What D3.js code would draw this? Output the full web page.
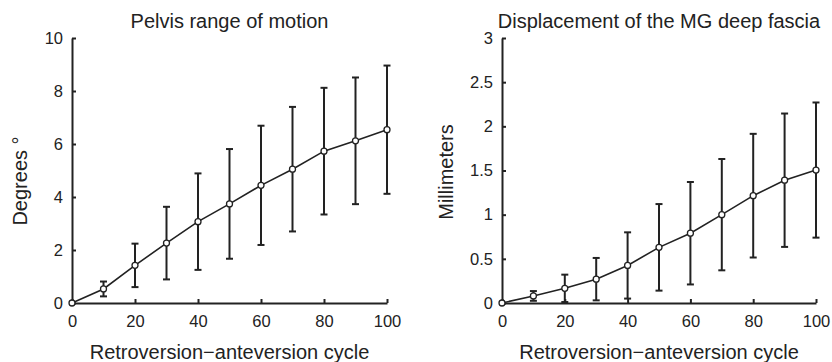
<!DOCTYPE html>
<html>
<head>
<meta charset="utf-8">
<script src="https://cdn.jsdelivr.net/npm/d3@7"></script>
<style>
  body { margin: 0; background: #fff; }
  svg text { font-family: "Liberation Sans", Arial, Helvetica, sans-serif; fill: #222; }
</style>
</head>
<body>
<svg width="832" height="362"></svg>
<script>
var cycle = [0, 10, 20, 30, 40, 50, 60, 70, 80, 90, 100];

// pelvis range of motion, degrees (mean, sd)
var pelvisMean = [0, 0.53, 1.42, 2.26, 3.07, 3.74, 4.44, 5.05, 5.73, 6.12, 6.54];
var pelvisSd   = [0, 0.28, 0.82, 1.37, 1.82, 2.07, 2.25, 2.35, 2.39, 2.39, 2.42];

// displacement of MG deep fascia, mm (mean, sd)
var fasciaMean = [0, 0.08, 0.166, 0.27, 0.425, 0.63, 0.79, 1.0, 1.215, 1.39, 1.505];
var fasciaSd   = [0, 0.055, 0.155, 0.24, 0.375, 0.49, 0.58, 0.63, 0.70, 0.755, 0.765];

var xTicks = [0, 20, 40, 60, 80, 100];
var pelvisTicks = [0, 2, 4, 6, 8, 10];
var fasciaTicks = [0, 0.5, 1, 1.5, 2, 2.5, 3];

var svg = d3.select("svg");

function styleAxis(a) {
  a.select(".domain").attr("stroke", "#222").attr("stroke-width", 2);
  a.selectAll(".tick line").attr("stroke", "#222").attr("stroke-width", 2);
  a.selectAll("text").attr("font-size", 16.5).attr("fill", "#222")
    .attr("font-family", "Liberation Sans, Arial, sans-serif");
}

function drawPanel(opts) {
  var x = d3.scaleLinear().domain([0, 100]).range([opts.left, opts.right]);
  var y = d3.scaleLinear().domain([0, opts.yMax]).range([303, 38]);

  var g = svg.append("g");

  var data = cycle.map(function(c, i) {
    return {x: c, m: opts.mean[i], sd: opts.sd[i]};
  });

  g.append("g")
      .attr("transform", "translate(0,303)")
      .call(d3.axisBottom(x).tickValues(xTicks).tickSizeInner(-4).tickSizeOuter(0).tickPadding(12))
      .call(styleAxis);

  g.append("g")
      .attr("transform", "translate(" + opts.left + ",0)")
      .call(d3.axisLeft(y).tickValues(opts.ticks).tickSizeInner(-4).tickSizeOuter(0).tickPadding(9)
        .tickFormat(d3.format("")))
      .call(styleAxis);

  // error bars
  var eb = g.append("g").attr("stroke", "#222").attr("stroke-width", 2)
    .selectAll("g").data(data.filter(function(d) { return d.sd > 0; }))
    .enter().append("g");
  eb.append("line")
      .attr("x1", function(d) { return x(d.x); })
      .attr("x2", function(d) { return x(d.x); })
      .attr("y1", function(d) { return y(d.m - d.sd); })
      .attr("y2", function(d) { return y(d.m + d.sd); });
  eb.append("line")
      .attr("x1", function(d) { return x(d.x) - 3.5; })
      .attr("x2", function(d) { return x(d.x) + 3.5; })
      .attr("y1", function(d) { return y(d.m + d.sd); })
      .attr("y2", function(d) { return y(d.m + d.sd); });
  eb.append("line")
      .attr("x1", function(d) { return x(d.x) - 3.5; })
      .attr("x2", function(d) { return x(d.x) + 3.5; })
      .attr("y1", function(d) { return y(d.m - d.sd); })
      .attr("y2", function(d) { return y(d.m - d.sd); });

  // mean line
  g.append("path")
      .datum(data)
      .attr("fill", "none")
      .attr("stroke", "#222")
      .attr("stroke-width", 1.6)
      .attr("d", d3.line().x(function(d) { return x(d.x); }).y(function(d) { return y(d.m); }));

  g.append("g").selectAll("circle").data(data).enter().append("circle")
      .attr("cx", function(d) { return x(d.x); })
      .attr("cy", function(d) { return y(d.m); })
      .attr("r", 3)
      .attr("fill", "#fff")
      .attr("stroke", "#222")
      .attr("stroke-width", 1.3);

  var cx = (opts.left + opts.right) / 2;
  g.append("text")
      .attr("x", cx).attr("y", 28)
      .attr("text-anchor", "middle")
      .attr("font-size", 20)
      .text(opts.title);

  g.append("text")
      .attr("x", cx).attr("y", 359)
      .attr("text-anchor", "middle")
      .attr("font-size", 20)
      .text("Retroversion\u2212anteversion cycle");

  g.append("text")
      .attr("transform", "translate(" + opts.ylabX + "," + opts.ylabY + ") rotate(-90)")
      .attr("text-anchor", "middle")
      .attr("font-size", 20)
      .text(opts.ylab);
}

drawPanel({
  left: 72, right: 387, yMax: 10, ticks: pelvisTicks,
  mean: pelvisMean, sd: pelvisSd,
  title: "Pelvis range of motion",
  ylab: "Degrees \u00b0", ylabX: 27, ylabY: 181
});

drawPanel({
  left: 502, right: 816, yMax: 3, ticks: fasciaTicks,
  mean: fasciaMean, sd: fasciaSd,
  title: "Displacement of the MG deep fascia",
  ylab: "Millimeters", ylabX: 453, ylabY: 172
});
</script>
</body>
</html>
